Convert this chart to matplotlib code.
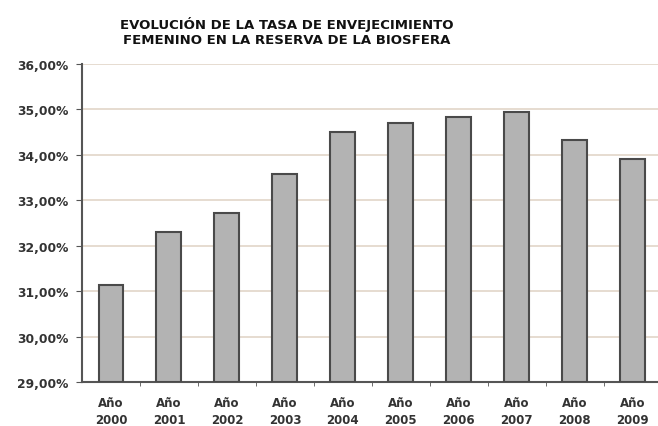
import matplotlib.pyplot as plt
from matplotlib.ticker import FixedLocator

# Data
years = ["Año\n2000", "Año\n2001", "Año\n2002", "Año\n2003", "Año\n2004",
         "Año\n2005", "Año\n2006", "Año\n2007", "Año\n2008", "Año\n2009"]
rates = [31.14, 32.30, 32.72, 33.58, 34.51, 34.70, 34.84, 34.95, 34.33, 33.91]
y_ticks = [29, 30, 31, 32, 33, 34, 35, 36]

fig = plt.figure(figsize=(6.58, 4.27), dpi=100)
ax = fig.add_axes([0.1246, 0.103, 0.881, 0.745])

x = list(range(len(years)))
ax.bar(x, [r - 29 for r in rates], bottom=29, width=0.43,
       color="#b3b3b3", edgecolor="#4a4a4a", linewidth=1.5, zorder=3)

ax.set_ylim(29, 36)
ax.set_xlim(-0.5, len(years) - 0.5)
ax.set_yticks(y_ticks)
ax.set_yticklabels([f"{v:.2f}%".replace(".", ",") for v in y_ticks],
                   fontsize=8.8, fontweight="bold", color="#333333")
ax.set_xticks(x)
ax.set_xticklabels(years, fontsize=8.5, fontweight="bold", color="#333333",
                   linespacing=1.45)
ax.tick_params(axis="x", which="major", length=0, pad=10)
ax.xaxis.set_minor_locator(FixedLocator([i + 0.5 for i in x]))
ax.tick_params(axis="x", which="minor", length=3, color="#555555")
ax.tick_params(axis="y", length=4, color="#555555", pad=6)

ax.grid(axis="y", color="#e2d6c8", linewidth=1.2, zorder=0)
for s in ["top", "right"]:
    ax.spines[s].set_visible(False)
for s in ["left", "bottom"]:
    ax.spines[s].set_color("#555555")
    ax.spines[s].set_linewidth(1.5)

fig.text(0.436, 0.925, "EVOLUCIÓN DE LA TASA DE ENVEJECIMIENTO\nFEMENINO EN LA RESERVA DE LA BIOSFERA",
         ha="center", va="center", fontsize=9.5, fontweight="heavy",
         color="#111111", linespacing=1.25)

fig.savefig("out.png", dpi=100)
